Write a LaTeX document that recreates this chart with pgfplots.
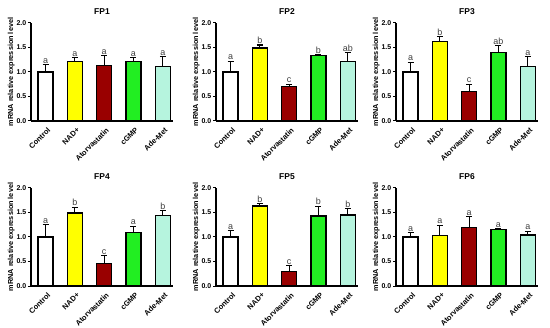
\documentclass[border=0pt]{standalone}
\usepackage{fontspec}
\setmainfont{Liberation Sans}
\usepackage{pgfplots}
\pgfplotsset{compat=1.18}
\definecolor{cwhite}{HTML}{FFFFFF}
\definecolor{cyel}{HTML}{FFFF00}
\definecolor{cred}{HTML}{990000}
\definecolor{cgrn}{HTML}{22EE22}
\definecolor{caqua}{HTML}{B6F4DE}
\pgfplotsset{
  fp/.style={
    scale only axis, width=142bp, height=98bp,
    xmin=-0.5, xmax=4.35, ymin=0, ymax=2,
    axis lines*=left, clip=false,
    axis line style={line width=1.1bp},
    tick align=outside, major tick length=3bp,
    tick style={line width=1bp, black},
    ytick={0,0.5,1,1.5,2},
    /pgf/number format/.cd, fixed, fixed zerofill, precision=1, assume math mode=true,
    /pgfplots/.cd,
    yticklabel style={font=\bfseries\fontsize{7}{8}\selectfont, inner sep=1.5pt},
    xtick={0,1,2,3,4},
    xticklabels={Control,NAD+,Atorvastatin,cGMP,Ade-Met},
    xtick style={draw=none},
    xticklabel style={rotate=45, anchor=north east, font=\bfseries\fontsize{7.5}{8}\selectfont, inner sep=1pt, yshift=-2bp},
    ylabel={mRNA relative expression level},
    ylabel style={font=\bfseries\fontsize{7.3}{8}\selectfont, yshift=-3bp},
    title style={font=\bfseries\fontsize{8.5}{10}\selectfont, yshift=-1bp},
  },
  fpbar/.style={ybar, bar width=15bp, draw=black, line width=1.3bp, fill=#1,
    error bars/.cd, y dir=plus, y explicit,
    error bar style={line width=1.1bp, black},
    error mark options={rotate=90, mark size=3bp, line width=1.1bp, black}},
  fplab/.style={draw=none, mark=none, nodes near coords, point meta=explicit symbolic,
    nodes near coords style={anchor=south, font=\fontsize{9}{10}\selectfont, inner sep=1pt, text=black!75}},
}
\begin{document}
\begin{tikzpicture}
\path[use as bounding box] (0,0) rectangle (550bp,328bp);
% FP1
\begin{axis}[fp, title={FP1}, at={(31bp,207bp)}, anchor=south west]
\addplot[fpbar=cwhite] coordinates {(0,1.00) +- (0,0.15)};
\addplot[fpbar=cyel] coordinates {(1,1.21) +- (0,0.09)};
\addplot[fpbar=cred] coordinates {(2,1.13) +- (0,0.20)};
\addplot[fpbar=cgrn] coordinates {(3,1.21) +- (0,0.09)};
\addplot[fpbar=caqua] coordinates {(4,1.11) +- (0,0.20)};
\addplot[fplab] coordinates {(0,1.15)[a] (1,1.30)[a] (2,1.33)[a] (3,1.30)[a] (4,1.31)[a]};
\end{axis}
% FP2
\begin{axis}[fp, title={FP2}, at={(216bp,207bp)}, anchor=south west]
\addplot[fpbar=cwhite] coordinates {(0,1.00) +- (0,0.22)};
\addplot[fpbar=cyel] coordinates {(1,1.49) +- (0,0.06)};
\addplot[fpbar=cred] coordinates {(2,0.70) +- (0,0.05)};
\addplot[fpbar=cgrn] coordinates {(3,1.33) +- (0,0.03)};
\addplot[fpbar=caqua] coordinates {(4,1.22) +- (0,0.18)};
\addplot[fplab] coordinates {(0,1.22)[a] (1,1.55)[b] (2,0.75)[c] (3,1.36)[b] (4,1.40)[ab]};
\end{axis}
% FP3
\begin{axis}[fp, title={FP3}, at={(396bp,207bp)}, anchor=south west]
\addplot[fpbar=cwhite] coordinates {(0,1.00) +- (0,0.20)};
\addplot[fpbar=cyel] coordinates {(1,1.62) +- (0,0.10)};
\addplot[fpbar=cred] coordinates {(2,0.60) +- (0,0.15)};
\addplot[fpbar=cgrn] coordinates {(3,1.40) +- (0,0.14)};
\addplot[fpbar=caqua] coordinates {(4,1.11) +- (0,0.20)};
\addplot[fplab] coordinates {(0,1.20)[a] (1,1.72)[b] (2,0.75)[c] (3,1.54)[ab] (4,1.31)[a]};
\end{axis}
% FP4
\begin{axis}[fp, title={FP4}, at={(31bp,42bp)}, anchor=south west]
\addplot[fpbar=cwhite] coordinates {(0,1.00) +- (0,0.25)};
\addplot[fpbar=cyel] coordinates {(1,1.49) +- (0,0.12)};
\addplot[fpbar=cred] coordinates {(2,0.46) +- (0,0.16)};
\addplot[fpbar=cgrn] coordinates {(3,1.09) +- (0,0.13)};
\addplot[fpbar=caqua] coordinates {(4,1.44) +- (0,0.10)};
\addplot[fplab] coordinates {(0,1.25)[a] (1,1.61)[b] (2,0.62)[c] (3,1.22)[a] (4,1.54)[b]};
\end{axis}
% FP5
\begin{axis}[fp, title={FP5}, at={(216bp,42bp)}, anchor=south west]
\addplot[fpbar=cwhite] coordinates {(0,1.00) +- (0,0.13)};
\addplot[fpbar=cyel] coordinates {(1,1.63) +- (0,0.05)};
\addplot[fpbar=cred] coordinates {(2,0.30) +- (0,0.11)};
\addplot[fpbar=cgrn] coordinates {(3,1.43) +- (0,0.20)};
\addplot[fpbar=caqua] coordinates {(4,1.45) +- (0,0.13)};
\addplot[fplab] coordinates {(0,1.13)[a] (1,1.68)[b] (2,0.41)[c] (3,1.63)[b] (4,1.58)[b]};
\end{axis}
% FP6
\begin{axis}[fp, title={FP6}, at={(396bp,42bp)}, anchor=south west]
\addplot[fpbar=cwhite] coordinates {(0,1.00) +- (0,0.09)};
\addplot[fpbar=cyel] coordinates {(1,1.03) +- (0,0.21)};
\addplot[fpbar=cred] coordinates {(2,1.19) +- (0,0.22)};
\addplot[fpbar=cgrn] coordinates {(3,1.15) +- (0,0.02)};
\addplot[fpbar=caqua] coordinates {(4,1.04) +- (0,0.08)};
\addplot[fplab] coordinates {(0,1.09)[a] (1,1.24)[a] (2,1.41)[a] (3,1.17)[a] (4,1.12)[a]};
\end{axis}
\end{tikzpicture}
\end{document}
